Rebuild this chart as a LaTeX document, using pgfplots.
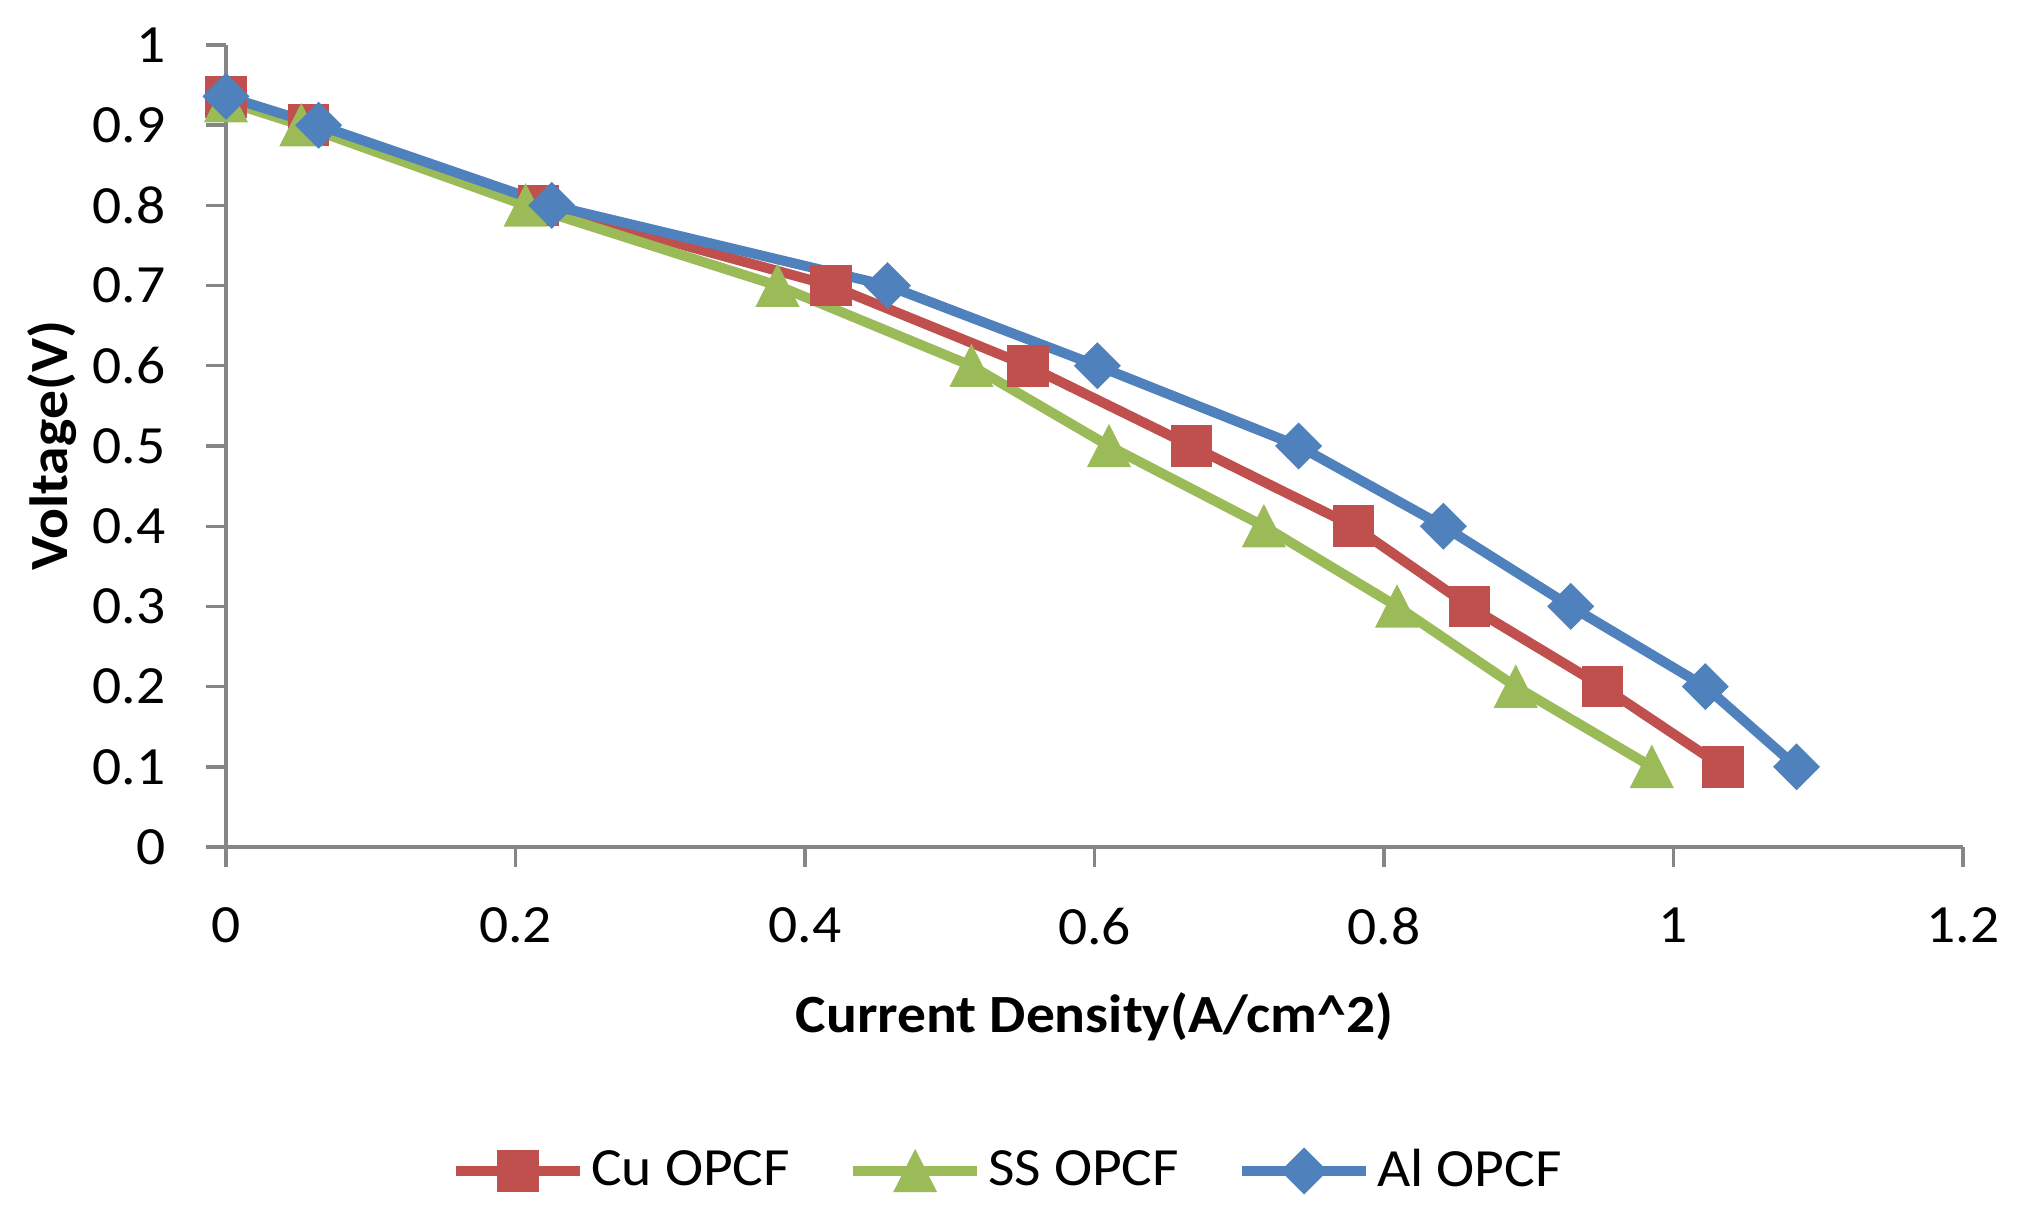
\documentclass[border=0pt]{standalone}
\usepackage{fontspec}
\setmainfont{Carlito}[FakeStretch=1.07]
\usepackage{pgfplots}
\pgfplotsset{compat=1.18}
\definecolor{cured}{HTML}{C0504D}
\definecolor{ssgreen}{HTML}{9BBB59}
\definecolor{alblue}{HTML}{4F81BD}
\definecolor{axgray}{HTML}{868686}
\newcommand\chartfont{\fontsize{13.45}{16}\selectfont}
\begin{document}
\begin{tikzpicture}
\begin{axis}[
  scale only axis, width=434.25pt, height=200.5pt,
  xmin=0, xmax=1.2, ymin=0, ymax=1,
  xtick={0,0.2,0.4,0.6,0.8,1,1.2},
  ytick={0,0.1,0.2,0.3,0.4,0.5,0.6,0.7,0.8,0.9,1},
  axis lines=left, axis line style={-, draw=axgray, line width=0.85pt},
  tick style={draw=axgray, line width=0.85pt},
  tick align=outside, major tick length=5pt,
  /pgf/number format/assume math mode=true,
  ticklabel style={font=\chartfont},
  yticklabel style={anchor=east, inner sep=0pt, xshift=-10pt},
  xticklabel style={anchor=north, inner sep=0pt, yshift=-10pt},
  xlabel={Current Density(A/cm\textasciicircum{}2)},
  ylabel={Voltage(V)},
  label style={font=\bfseries\chartfont, inner sep=0pt},
  xlabel style={at={([yshift=-46.25pt]axis description cs:0.5,0)}, anchor=base},
  ylabel style={at={([xshift=-39.5pt]axis description cs:0,0.5)}, anchor=base},
  every axis plot/.append style={line width=2.5pt},
  legend columns=3,
  legend cell align=left,
  legend style={at={([yshift=-81pt]axis description cs:0.451,0)}, anchor=center,
    draw=none, fill=none, font=\chartfont, inner sep=0pt,
    nodes={inner sep=1.5pt},
    /tikz/every even column/.append style={column sep=13pt}},
  legend image code/.code={\draw[mark repeat=2,mark phase=2] plot coordinates {(0pt,0pt)(15.5pt,0pt)(31pt,0pt)};},
]
\addplot[color=cured, mark=square*, mark size=5pt, mark options={solid, fill=cured, line width=0.4pt}] coordinates {
(0,0.935) (0.057,0.9) (0.216,0.8) (0.418,0.7) (0.554,0.6) (0.667,0.5) (0.779,0.4) (0.859,0.3) (0.951,0.2) (1.034,0.1)};
\addlegendentry{Cu OPCF}
\addplot[color=ssgreen, mark=triangle*, mark size=6.8pt, mark options={solid, fill=ssgreen, line width=0.4pt, xscale=0.88, yshift=-1.7pt}] coordinates {
(0,0.93) (0.052,0.9) (0.207,0.8) (0.381,0.7) (0.515,0.6) (0.61,0.5) (0.717,0.4) (0.809,0.3) (0.891,0.2) (0.985,0.1)};
\addlegendentry{SS OPCF}
\addplot[color=alblue, mark=square*, mark size=3.95pt, mark options={solid, fill=alblue, line width=0.4pt, rotate=45}] coordinates {
(0,0.936) (0.064,0.9) (0.225,0.8) (0.457,0.7) (0.602,0.6) (0.741,0.5) (0.841,0.4) (0.929,0.3) (1.022,0.2) (1.085,0.1)};
\addlegendentry{Al OPCF}
\end{axis}
\pgfresetboundingbox
\path[use as bounding box] ([shift={(-56.5pt,-95.75pt)}]current axis.south west) rectangle ([shift={(16.75pt,11.25pt)}]current axis.north east);
\end{tikzpicture}
\end{document}
